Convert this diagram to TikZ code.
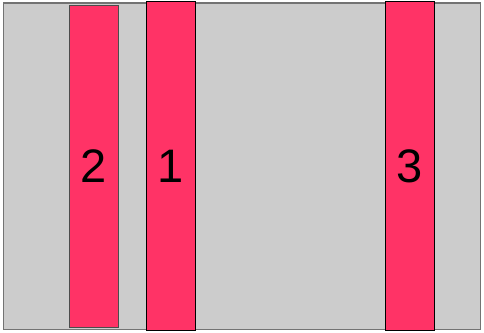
\documentclass[tikz,border=0pt]{standalone}
\usepackage{fontspec}
\setmainfont{Liberation Sans}
\definecolor{bargray}{HTML}{CCCCCC}
\definecolor{barpink}{HTML}{FF3366}

\begin{document}
\begin{tikzpicture}[x=1pt, y=-1pt,
    bar/.style={draw, fill=barpink, line width=1pt, minimum width=49pt, inner sep=0pt},
    num/.style={font=\fontsize{47}{47}\selectfont, inner sep=0pt}]
  \useasboundingbox (0,0) rectangle (484,332);

  % Background panel
  \fill[bargray] (3.5,3) rectangle (480.5,329.5);
  \draw[black!55, line width=1.2pt] (3.5,3) rectangle (480.5,329.5);

  % Bars
  \node[bar, draw=black!70, minimum height=322.5pt] (bar2) at (93.7,166.3) {};
  \node[bar, minimum height=329.5pt] (bar1) at (170.7,166.2) {};
  \node[bar, minimum height=329.5pt] (bar3) at (410,166.2) {};

  % Labels
  \node[num] (lbl2) at (bar2) {2};
  \node[num] (lbl1) at (bar1) {1};
  \node[num] (lbl3) at (bar3) {3};
\end{tikzpicture}
\end{document}
